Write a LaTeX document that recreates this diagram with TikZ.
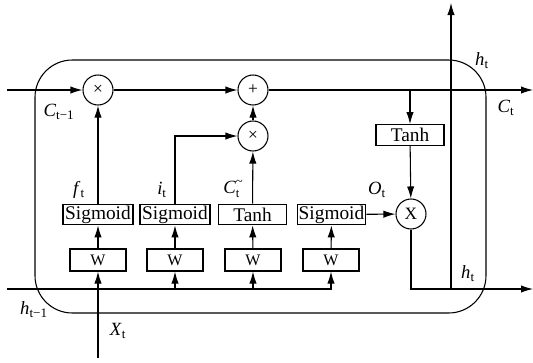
\documentclass[tikz,border=0pt]{standalone}
\usepackage{fontspec}
\setmainfont{Liberation Serif}
\usetikzlibrary{arrows.meta}
\begin{document}
\begin{tikzpicture}[x=0.75pt,y=-0.75pt,
  line width=0.8pt,
  arr/.style={-{Latex[length=9pt,width=5.5pt]}},
  op/.style={circle,draw,minimum size=22.5pt,inner sep=0pt,font=\fontsize{13}{15}\selectfont},
  gate/.style={draw,minimum height=15.5pt,inner sep=0pt,font=\fontsize{14.5}{16}\selectfont},
  wbox/.style={draw,minimum width=42pt,minimum height=16.5pt,inner sep=0pt,font=\fontsize{12}{14}\selectfont},
  lab/.style={font=\fontsize{14}{16}\selectfont,inner sep=0pt}]
\useasboundingbox (0,0) rectangle (533,362);
% cell outline
\draw[rounded corners=28pt] (35,60) rectangle (486,313);
% operators
\node[op] (m1) at (98,90) {×};
\node[op] (a1) at (253,90) {+};
\node[op] (m2) at (253,136) {×};
\node[op] (mo) at (411,214) {X};
\node[gate,minimum width=51pt] (tc) at (410,135) {Tanh};
% gates
\node[gate,minimum width=52.5pt] (g1) at (98,214.5) {Sigmoid};
\node[gate,minimum width=52.5pt] (g2) at (175,214.5) {Sigmoid};
\node[gate,minimum width=51.5pt] (g3) at (252.5,214.5) {Tanh};
\node[gate,minimum width=51.5pt] (g4) at (331.5,214.5) {Sigmoid};
% W boxes
\node[wbox] (w1) at (98,260) {W};
\node[wbox] (w2) at (175,260) {W};
\node[wbox] (w3) at (253,260) {W};
\node[wbox] (w4) at (331,260) {W};
% free ends
\coordinate (cin) at (7,90);
\coordinate (cout) at (533,90);
\coordinate (hin) at (7,289);
\coordinate (hout) at (533,289);
\coordinate (htop) at (451,3);
\coordinate (hj) at (451,289);
\coordinate (xin) at (98,358);
% cell state line
\draw[arr] (cin) -- (m1);
\draw[arr] (m1) -- (a1);
\draw[arr] (a1) -- (cout);
\draw[arr] (tc.north |- a1) -- (tc);
\draw[arr] (tc) -- (mo);
\draw[arr] (mo.south) |- (hout);
\draw[arr] (hj) -- (htop);
% hidden input line
\draw[arr] (hin) -| (w4);
\draw[arr] (w2 |- hin) -- (w2);
\draw[arr] (w3 |- hin) -- (w3);
\draw[arr] (xin) -- (w1);
% W to gates
\draw[arr] (w1) -- (g1);
\draw[arr] (w2) -- (g2);
\draw[arr] (w3) -- (g3);
\draw[arr] (w4) -- (g4);
% gates to operators
\draw[arr] (g1) -- (m1);
\draw[arr] (g2.north) |- (m2);
\draw[arr] (g3) -- (m2);
\draw[arr] (m2) -- (a1);
\draw[arr] (g4) -- (mo);
% labels
\node[lab] at (59,112) {\textit{C}\textsubscript{t−1}};
\node[lab] at (79,190) {\textit{f}\textsubscript{t}};
\node[lab] at (162,190) {\textit{i}\textsubscript{t}};
\node[lab] at (233,189) {\textit{C}\raisebox{-0.45ex}{\fontsize{9.5}{7}\selectfont\shortstack[l]{\textasciitilde\\t}}};
\node[lab] at (377,190) {\textit{O}\textsubscript{t}};
\node[lab] at (482,61) {\textit{h}\textsubscript{t}};
\node[lab] at (506,108) {\textit{C}\textsubscript{t}};
\node[lab] at (468,274) {\textit{h}\textsubscript{t}};
\node[lab] at (34,310) {\textit{h}\textsubscript{t−1}};
\node[lab] at (118,331) {\textit{X}\textsubscript{t}};
\end{tikzpicture}
\end{document}
